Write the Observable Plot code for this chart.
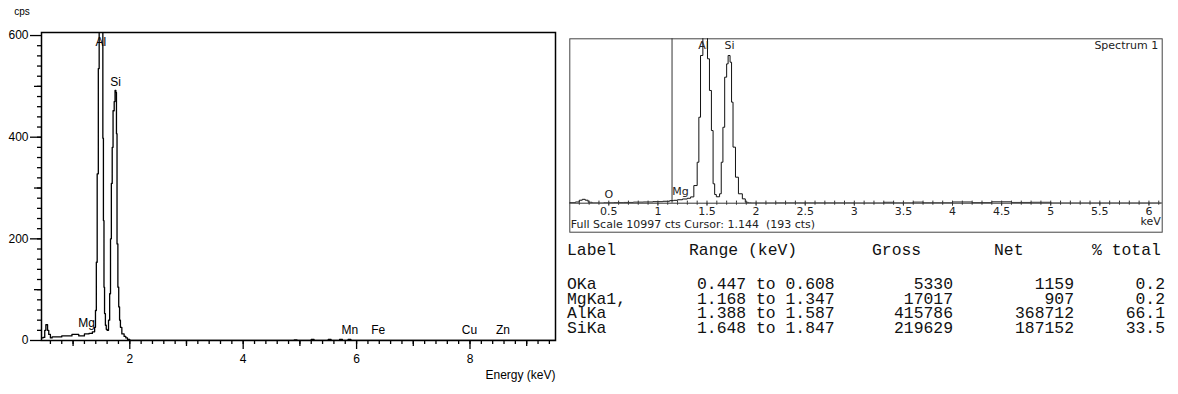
<!DOCTYPE html>
<html><head><meta charset="utf-8">
<script src="https://cdn.jsdelivr.net/npm/d3@7"></script>
<script src="https://cdn.jsdelivr.net/npm/@observablehq/plot@0.6"></script>
<style>
body{margin:0;background:#fff;width:1178px;height:394px;overflow:hidden;position:relative;font-family:"Liberation Sans",Arial,sans-serif}
#left{position:absolute;left:0;top:0}
#right{position:absolute;left:560px;top:0}
.cell{position:absolute;white-space:pre;line-height:12px;height:12px;font-family:"Liberation Mono",monospace;font-size:16.4px;color:#111}
</style></head><body>
<div id="left"></div><div id="right"></div><div id="table"></div>
<script>
// ---------- Left spectrum (cps vs keV) ----------
const leftEnergy = [0.443,0.47,0.50,0.52,0.55,0.571,0.60,0.63,0.80,0.98,1.10,1.20,1.28,1.34,1.38,1.395,1.41,1.425,1.445,1.46,1.47,1.49,1.51,1.525,1.535,1.545,1.555,1.57,1.585,1.60,1.625,1.645,1.66,1.675,1.69,1.705,1.725,1.74,1.755,1.765,1.775,1.79,1.805,1.82,1.835,1.86,1.90,1.93,1.96,2.0,4.9,4.95,5.2,5.25,5.5,5.55,5.7,5.75,5.85,5.9,9.5];
const leftCps    = [5,6,20,31,20,12,5,7,9,12,9,13,14,17,26,59,154,328,535,640,700,650,620,398,236,105,53,30,22,20,40,92,200,309,380,452,470,492,488,407,190,105,66,40,26,13,8,5,2,0,1,0,2,0,2,0,2,0,2,0,0];
const leftElemNames   = ["Al","Si","Mg","Mn","Fe","Cu","Zn"];
const leftElemEnergy  = [1.49,1.748,1.236,5.88,6.38,7.99,8.58];
const leftElemHeight  = [587,508,35,20,20,20,20];
const leftYMajor = [0,200,400,600];
const leftYMid   = [100,300,500];
const leftXMajor = [2,4,6,8];
const leftXMid   = [1,3,5,7,9];

// ---------- Right spectrum (counts vs keV) ----------
const rightEnergy = [0.103,0.16,0.20,0.23,0.26,0.29,0.33,0.40,0.45,0.55,0.65,0.75,0.85,0.95,1.05,1.12,1.16,1.20,1.25,1.30,1.333,1.366,1.40,1.417,1.434,1.458,1.47,1.49,1.505,1.525,1.545,1.562,1.578,1.595,1.628,1.645,1.662,1.68,1.70,1.715,1.735,1.75,1.765,1.79,1.82,1.86,1.89,1.92,1.95,2.2,3.0,3.3,3.4,3.6,3.7,4.0,4.2,4.4,4.6,4.8,5.0,6.135];
const rightCounts = [40,80,200,260,200,60,20,10,30,40,50,70,80,100,130,170,193,230,280,330,420,1180,2740,5750,9880,14000,18000,14000,9660,7540,4860,1300,580,430,630,2740,5080,8430,9320,9880,9430,6760,3750,1740,630,290,60,20,10,20,10,60,20,70,30,80,40,90,50,60,10,5];
const rightElemNames  = ["O","Mg","Al","Si"];
const rightElemEnergy = [0.5,1.23,1.464,1.729];
const rightElemHeight = [560,800,10548,10548];
const rightXMajor = [0.5,1,1.5,2,2.5,3,3.5,4,4.5,5,5.5,6];
const fullScale = 10997;
const cursorE = 1.144;
const footerText = "Full Scale 10997 cts Cursor: 1.144\u00a0\u00a0(193 cts)";

// ---------- Table ----------
const tableHeaders = ["Label","Range (keV)","Gross","Net","% total"];
const tableLabels = ["OKa","MgKa1,","AlKa","SiKa"];
const rangeLo = ["0.447","1.168","1.388","1.648"];
const rangeHi = ["0.608","1.347","1.587","1.847"];
const gross = [5330,17017,415786,219629];
const net = [1159,907,368712,187152];
const pctTotal = ["0.2","0.2","66.1","33.5"];

const leftData = leftEnergy.map((e,i)=>({e, c:leftCps[i]}));
const leftElems = leftElemNames.map((n,i)=>({n, e:leftElemEnergy[i], c:leftElemHeight[i]}));
const rightData = rightEnergy.map((e,i)=>({e, c:rightCounts[i]}));
const rightElems = rightElemNames.map((n,i)=>({n, e:rightElemEnergy[i], c:rightElemHeight[i]}));

const r1 = v => Math.round(v*10)/10;
const leftYMinor = d3.range(20, 600, 20);
const leftXMinor = d3.range(0.6, 9.5, 0.2).map(r1);
const rightXMinor = d3.range(0.2, 6.11, 0.1).map(r1);
const blank = () => "";

const leftPlot = Plot.plot({
  width: 560, height: 394,
  marginLeft: 41, marginRight: 5, marginTop: 32, marginBottom: 54,
  style: {fontFamily: "Liberation Sans, Arial, sans-serif", fontSize: "12px", color: "#000", background: "transparent"},
  x: {domain: [0.443, 9.508], label: null},
  y: {domain: [0, 606], label: null},
  marks: [
    Plot.line(leftData, {x: "e", y: "c", curve: "step-after", stroke: "#000", strokeWidth: 1.3, clip: true}),
    Plot.frame({stroke: "#000", strokeWidth: 1.5}),
    Plot.axisY({ticks: leftYMinor, tickSize: 4, tickFormat: blank, label: null, strokeWidth: 1.3}),
    Plot.axisY({ticks: leftYMid, tickSize: 7, tickFormat: blank, label: null, strokeWidth: 1.3}),
    Plot.axisY({ticks: leftYMajor, tickSize: 11, tickPadding: 2, tickFormat: d => String(d), label: null, strokeWidth: 1.3, fontSize: 12}),
    Plot.axisX({ticks: leftXMinor, tickSize: 4, tickFormat: blank, label: null, strokeWidth: 1.3}),
    Plot.axisX({ticks: leftXMid, tickSize: 6, tickFormat: blank, label: null, strokeWidth: 1.3}),
    Plot.axisX({ticks: leftXMajor, tickSize: 9, tickPadding: 5, tickFormat: d => String(d), label: null, strokeWidth: 1.3, fontSize: 12}),
    Plot.text(leftElems, {x: "e", y: "c", text: "n", fontSize: 12, fill: "#000"}),
    Plot.text(["cps"], {text: d => d, frameAnchor: "top-left", dx: -19.5, dy: -21, fontSize: 10, lineAnchor: "middle", textAnchor: "middle"}),
    Plot.text(["Energy (keV)"], {text: d => d, frameAnchor: "bottom-right", dx: 0, dy: 35, fontSize: 12, lineAnchor: "middle", textAnchor: "end"})
  ]
});
document.getElementById("left").appendChild(leftPlot);

const rightPlot = Plot.plot({
  width: 618, height: 240,
  marginLeft: 9.3, marginRight: 16.3, marginTop: 38.3, marginBottom: 37.3,
  style: {fontFamily: "DejaVu Sans, sans-serif", fontSize: "11px", color: "#222", background: "transparent"},
  x: {domain: [0.103, 6.135], label: null},
  y: {domain: [0, fullScale], label: null, axis: null},
  marks: [
    Plot.frame({stroke: "#444", insetBottom: -29}),
    Plot.ruleX([cursorE], {stroke: "#333", strokeWidth: 1}),
    Plot.ruleY([0], {stroke: "#333"}),
    Plot.line(rightData, {x: "e", y: "c", curve: "step-after", stroke: "#111", strokeWidth: 1, clip: true}),
    Plot.ruleX(rightXMinor, {x: d => d, y1: 0, y2: 140, stroke: "#333"}),
    Plot.axisX({ticks: rightXMinor, tickSize: 2, tickFormat: blank, label: null, stroke: "#333"}),
    Plot.axisX({ticks: rightXMajor, tickSize: 3, tickPadding: 1, tickFormat: d => String(d), label: null, stroke: "#333", fill: "#222", fontSize: 11}),
    Plot.text(rightElems, {x: "e", y: "c", text: "n", fontSize: 11, fill: "#222"}),
    Plot.text(["Spectrum 1"], {text: d => d, frameAnchor: "top-right", dx: -4, dy: 6.7, fontSize: 11, lineAnchor: "middle", textAnchor: "end", fill: "#222"}),
    Plot.text(["keV"], {text: d => d, frameAnchor: "bottom-right", dx: -1.5, dy: 18.5, fontSize: 11, lineAnchor: "middle", textAnchor: "end", fill: "#222"}),
    Plot.text([footerText], {text: d => d, frameAnchor: "bottom-left", dx: 1, dy: 21.5, fontSize: 11, lineAnchor: "middle", textAnchor: "start", fill: "#222"})
  ]
});
document.getElementById("right").appendChild(rightPlot);

// table (HTML text)
const tbl = document.getElementById("table");
function cell(text, x, baseline, align) {
  const d = document.createElement("div");
  d.className = "cell";
  d.textContent = text;
  d.style.top = (baseline - 10.4) + "px";
  if (align === "right") d.style.right = (1178 - x) + "px"; else d.style.left = x + "px";
  tbl.appendChild(d);
}
const headerX = [567, 689, 872, 994, 1092];
tableHeaders.forEach((h, i) => cell(h, headerX[i], 255, "left"));
const rowBase = [289.5, 304, 318.5, 333];
tableLabels.forEach((l, i) => {
  const b = rowBase[i];
  cell(l, 567, b, "left");
  cell(rangeLo[i] + " to " + rangeHi[i], 697, b, "left");
  cell(String(gross[i]), 953, b, "right");
  cell(String(net[i]), 1074, b, "right");
  cell(pctTotal[i], 1165, b, "right");
});
</script></body></html>
